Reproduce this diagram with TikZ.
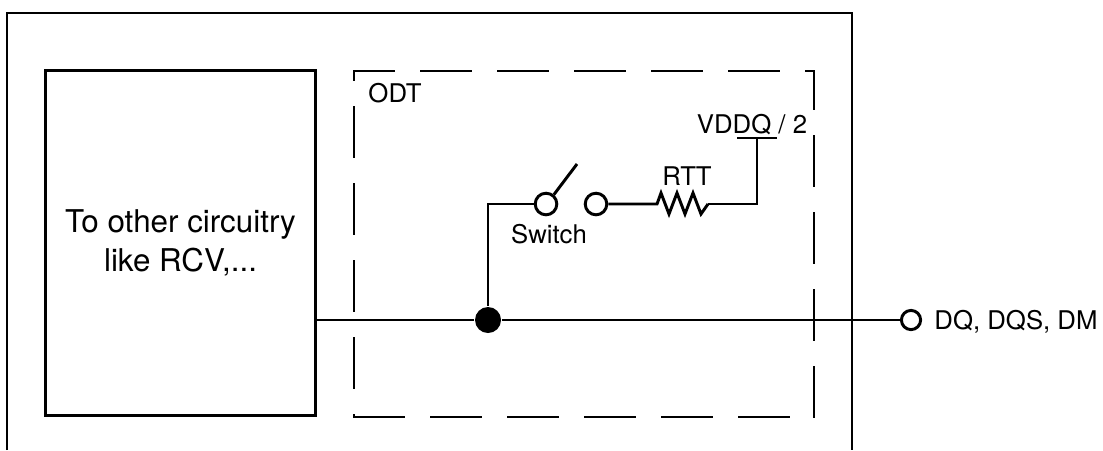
\documentclass[tikz,border=0pt]{standalone}
\usepackage{fontspec}
\setmainfont{TeX Gyre Heros}
\newcommand{\lblsize}{\fontsize{18.3}{22}\selectfont}
\newcommand{\boxsize}{\fontsize{22.3}{27.7}\selectfont}

\begin{document}
\begin{tikzpicture}[x=0.025cm, y=-0.025cm, line width=2.1pt,
  pin/.style={draw, circle, inner sep=0pt, minimum size=0.54cm},
  lbl/.style={inner sep=0pt, anchor=base, font=\lblsize},
  odtedge/.style={dash pattern=on 35pt off 19.8pt, line cap=rect}]
  \useasboundingbox (0,0) rectangle (1103,450);

  % Draw the chip outline
  \draw (7,450) -- (7,13) -- (852,13) -- (852,450); % open at the bottom

  % Draw the other circuitry
  \node[draw, minimum width=6.725cm, minimum height=8.6cm, inner sep=0pt,
        align=center, font=\boxsize] (rcv) at (180.5,243) {To other circuitry\\like RCV,...};

  % Draw the ODT frame
  \draw[odtedge, dash phase=7.1pt] (354,71) -- (814,71); % top
  \draw[odtedge, dash phase=29.2pt] (354,71) -- (354,417); % left
  \draw[odtedge] (354,417) -- (814,417); % bottom
  \draw[odtedge] (814,417) -- (814,71); % right
  \node[lbl, anchor=base west] (odt) at (367,102) {ODT};

  % Draw the switch
  \node[fill, circle, inner sep=0pt, minimum size=0.65cm] (dot) at (488,320) {};
  \node[pin] (sw1) at (546,204) {};
  \node[pin] (sw2) at (596,204) {};
  \coordinate (lever) at (577,164);
  \draw (sw1.50) -- (lever); % open contact
  \node[lbl] (swlbl) at (549,243) {Switch};

  % Draw the resistor
  \coordinate (r1) at (657,204);
  \coordinate (r2) at (708,204);
  \draw (sw2) -- (r1) -- (661,193) -- (669,214) -- (677,193) -- (685,214)
        -- (693,193) -- (701,214) -- (r2);
  \node[lbl] (rtt) at (687,185) {RTT};

  % Draw the termination voltage
  \coordinate (vddq) at (757,138);
  \coordinate (vl) at (737,138);
  \coordinate (vr) at (777,138);
  \draw (r2) -| (vddq);
  \draw (vl) -- (vr);
  \node[lbl] (vlbl) at (752,133) {VDDQ / 2};

  % Draw the DQ pin
  \node[pin, minimum size=0.48cm] (dq) at (911,320) {};
  \node[lbl, anchor=base west] (dqlbl) at (933,329) {DQ, DQS, DM};

  % Draw the wires
  \draw (rcv.east |- dot) -- (dot) -- (dq);
  \draw (dot) |- (sw1);
\end{tikzpicture}
\end{document}
